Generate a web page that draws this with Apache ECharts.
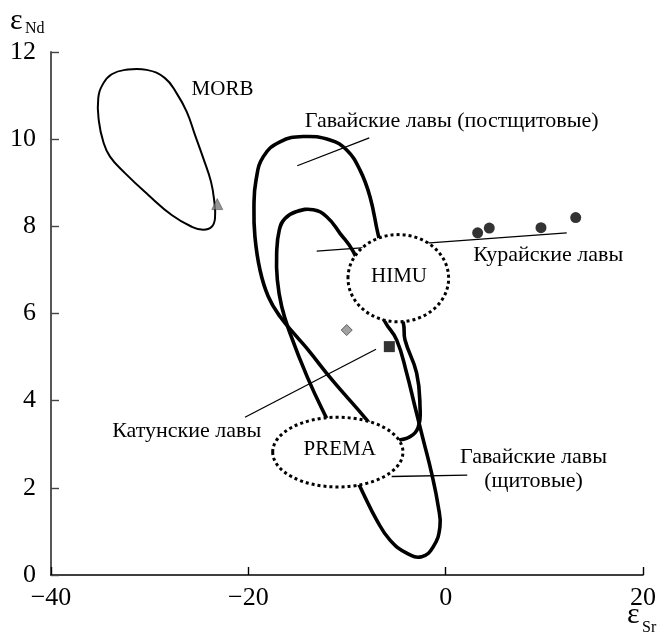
<!DOCTYPE html>
<html>
<head>
<meta charset="utf-8">
<script src="https://cdn.jsdelivr.net/npm/echarts@6/dist/echarts.min.js"></script>
<style>
  html, body { margin: 0; padding: 0; background: #fff; }
  #chart { width: 660px; height: 641px; }
</style>
</head>
<body>
<div id="chart"></div>
<script>
// Axis ticks: εSr (x) and εNd (y)
const xTicks = [-40, -20, 0, 20];
const yTicks = [0, 2, 4, 6, 8, 10, 12];

// Field outlines as [εSr, εNd] vertices (closed loops)
const morbField = [
  [-32.5, 11.59], [-30.3, 11.59], [-28.45, 11.40], [-27.26, 11.05], [-26.25, 10.63],
  [-25.41, 10.10], [-24.56, 9.56], [-23.78, 9.02], [-23.45, 8.57], [-23.38, 8.18],
  [-23.71, 7.99], [-24.56, 7.92], [-25.74, 7.99], [-27.77, 8.26], [-30.14, 8.72],
  [-32.5, 9.22], [-34.02, 9.60], [-34.70, 9.94], [-35.14, 10.40], [-35.21, 10.94],
  [-34.70, 11.28], [-33.85, 11.49]
];
// Tall field: runs down into PREMA, turns up through HIMU
const hawaiiPostShield = [
  [-14.43, 10.06], [-16.79, 9.94], [-18.48, 9.60], [-19.22, 9.06], [-19.43, 8.45],
  [-19.33, 7.76], [-18.82, 7.00], [-17.98, 6.39], [-16.79, 5.93], [-15.10, 5.47],
  [-13.92, 5.16], [-11.49, 4.47], [-8.0, 3.56], [-6.15, 3.01], [-4.63, 3.10],
  [-3.62, 3.17], [-2.77, 3.40], [-2.60, 3.86], [-2.94, 4.63], [-4.12, 5.39],
  [-4.29, 5.78], [-5.64, 6.77], [-6.83, 7.80], [-7.67, 8.68], [-8.68, 9.29],
  [-10.03, 9.75], [-11.72, 9.98]
];
// Inner field: crosses PREMA and reaches the lowest εNd
const hawaiiShield = [
  [-13.42, 8.38], [-15.10, 8.34], [-16.28, 8.18], [-16.86, 7.92], [-17.13, 7.38],
  [-17.06, 6.77], [-16.62, 6.16], [-15.78, 5.55], [-14.02, 4.54], [-12.23, 3.67],
  [-10.30, 2.82], [-8.35, 1.87], [-6.99, 1.26], [-5.64, 0.80], [-3.95, 0.50],
  [-2.43, 0.42], [-1.25, 0.65], [-0.58, 1.11], [-0.75, 1.57], [-1.42, 2.33],
  [-2.27, 3.10], [-3.11, 3.86], [-3.95, 4.63], [-4.96, 5.39], [-6.15, 5.81],
  [-7.77, 6.61], [-9.36, 7.42], [-10.71, 7.84], [-12.06, 8.22]
];

// Mantle end-members: dotted ellipses (centre and semi-axes in data units)
const endNames = ['HIMU', 'PREMA'];
const endCenters = [[-4.8, 6.81], [-10.93, 2.82]];
const endRadii = [[5.1, 1.0], [6.6, 0.8]];

// Samples
const morbPoint = [[-23.15, 8.51]];
const greyDiamond = [[-10.03, 5.62]];
const katunLavas = [[-5.71, 5.24]];
const kuraiLavas = [[3.24, 7.85], [4.42, 7.96], [9.66, 7.97], [13.18, 8.20]];

// Leader lines from captions to fields
const leaders = [
  [[-7.74, 10.03], [-15.04, 9.39]],
  [[-13.07, 7.43], [12.27, 7.85]],
  [[-20.34, 3.62], [-7.06, 5.18]],
  [[-5.47, 2.26], [2.19, 2.29]]
];

// Captions
const captionTexts = ['MORB', 'Гавайские лавы (постщитовые)', 'HIMU', 'PREMA',
  'Курайские лавы', 'Катунские лавы', 'Гавайские лавы\n(щитовые)'];
const captionAt = [[-22.62, 11.15], [0.61, 10.42], [-4.73, 6.86], [-10.74, 2.88],
  [10.40, 7.34], [-26.25, 3.30], [8.90, 2.43]];

const SERIF = '"Liberation Serif", "Times New Roman", serif';
const minusFmt = v => (v < 0 ? '\u2212' + Math.abs(v) : String(v));

function loopSeries(points, width, z) {
  return {
    type: 'custom',
    coordinateSystem: 'cartesian2d',
    z: z,
    silent: true,
    data: [0],
    renderItem: (params, api) => ({
      type: 'polygon',
      shape: { points: points.map(p => api.coord(p)), smooth: 0.45 },
      style: { fill: 'none', stroke: '#000', lineWidth: width, lineJoin: 'round' }
    })
  };
}

const chart = echarts.init(document.getElementById('chart'), null, { renderer: 'canvas' });

chart.setOption({
  animation: false,
  backgroundColor: '#fff',
  grid: { left: 51, right: 17, top: 52, bottom: 66 },
  xAxis: {
    type: 'value',
    min: xTicks[0], max: xTicks[xTicks.length - 1], interval: xTicks[1] - xTicks[0],
    splitLine: { show: false },
    axisLine: { show: true, onZero: false, lineStyle: { color: '#000', width: 1.6 } },
    axisTick: { show: true, inside: true, length: 8, lineStyle: { color: '#000', width: 1.4 } },
    axisLabel: { color: '#000', fontSize: 26, fontFamily: SERIF, margin: 10, formatter: minusFmt }
  },
  yAxis: {
    type: 'value',
    min: yTicks[0], max: yTicks[yTicks.length - 1], interval: yTicks[1] - yTicks[0],
    splitLine: { show: false },
    axisLine: { show: true, onZero: false, lineStyle: { color: '#444', width: 1.8 } },
    axisTick: { show: true, inside: true, length: 8, lineStyle: { color: '#444', width: 1.4 } },
    axisLabel: { color: '#000', fontSize: 26, fontFamily: SERIF, margin: 15, formatter: minusFmt }
  },
  graphic: [
    { type: 'text', x: 10, y: 21, style: { text: 'ε', fontSize: 30, fontFamily: SERIF, fill: '#000', verticalAlign: 'middle' } },
    { type: 'text', x: 25, y: 29, style: { text: 'Nd', fontSize: 16, fontFamily: SERIF, fill: '#000', verticalAlign: 'middle' } },
    { type: 'text', x: 627, y: 615, style: { text: 'ε', fontSize: 30, fontFamily: SERIF, fill: '#000', verticalAlign: 'middle' } },
    { type: 'text', x: 642, y: 628, style: { text: 'Sr', fontSize: 16, fontFamily: SERIF, fill: '#000', verticalAlign: 'middle' } }
  ],
  series: [
    loopSeries(morbField, 2, 2),
    loopSeries(hawaiiPostShield, 3.6, 2),
    loopSeries(hawaiiShield, 3.6, 2),
    {
      type: 'custom',
      coordinateSystem: 'cartesian2d',
      z: 2,
      silent: true,
      data: leaders.map((_, i) => i),
      renderItem: (params, api) => {
        const seg = leaders[params.dataIndex];
        const a = api.coord(seg[0]);
        const b = api.coord(seg[1]);
        return {
          type: 'line',
          shape: { x1: a[0], y1: a[1], x2: b[0], y2: b[1] },
          style: { stroke: '#000', lineWidth: 1.3 }
        };
      }
    },
    {
      type: 'custom',
      coordinateSystem: 'cartesian2d',
      z: 3,
      silent: true,
      data: endNames.map((_, i) => i),
      renderItem: (params, api) => {
        const i = params.dataIndex;
        const c = api.coord(endCenters[i]);
        const s = api.size(endRadii[i]);
        return {
          type: 'ellipse',
          shape: { cx: c[0], cy: c[1], rx: s[0], ry: s[1] },
          style: { fill: '#fff', stroke: '#000', lineWidth: 3, lineDash: [3, 3] }
        };
      }
    },
    {
      type: 'custom',
      coordinateSystem: 'cartesian2d',
      z: 4,
      silent: true,
      data: captionTexts.map((_, i) => i),
      renderItem: (params, api) => {
        const i = params.dataIndex;
        const c = api.coord(captionAt[i]);
        const cyrillic = /[\u0400-\u04FF]/.test(captionTexts[i]);
        return {
          type: 'text',
          x: c[0], y: c[1],
          style: {
            text: captionTexts[i], fontSize: cyrillic ? 22 : 21, fontFamily: SERIF, fill: '#000',
            align: 'center', verticalAlign: 'middle', lineHeight: 24
          }
        };
      }
    },
    {
      type: 'scatter', z: 5, silent: true, data: morbPoint,
      symbol: 'triangle', symbolSize: 11,
      itemStyle: { color: '#7a7a7a', borderColor: '#333', borderWidth: 0.6 }
    },
    {
      type: 'scatter', z: 5, silent: true, data: greyDiamond,
      symbol: 'diamond', symbolSize: 11,
      itemStyle: { color: '#8a8a8a', borderColor: '#444', borderWidth: 1 }
    },
    {
      type: 'scatter', z: 5, silent: true, data: katunLavas,
      symbol: 'rect', symbolSize: 11,
      itemStyle: { color: '#000' }
    },
    {
      type: 'scatter', z: 5, silent: true, data: kuraiLavas,
      symbol: 'circle', symbolSize: 11,
      itemStyle: { color: '#000' }
    }
  ]
});
</script>
</body>
</html>
